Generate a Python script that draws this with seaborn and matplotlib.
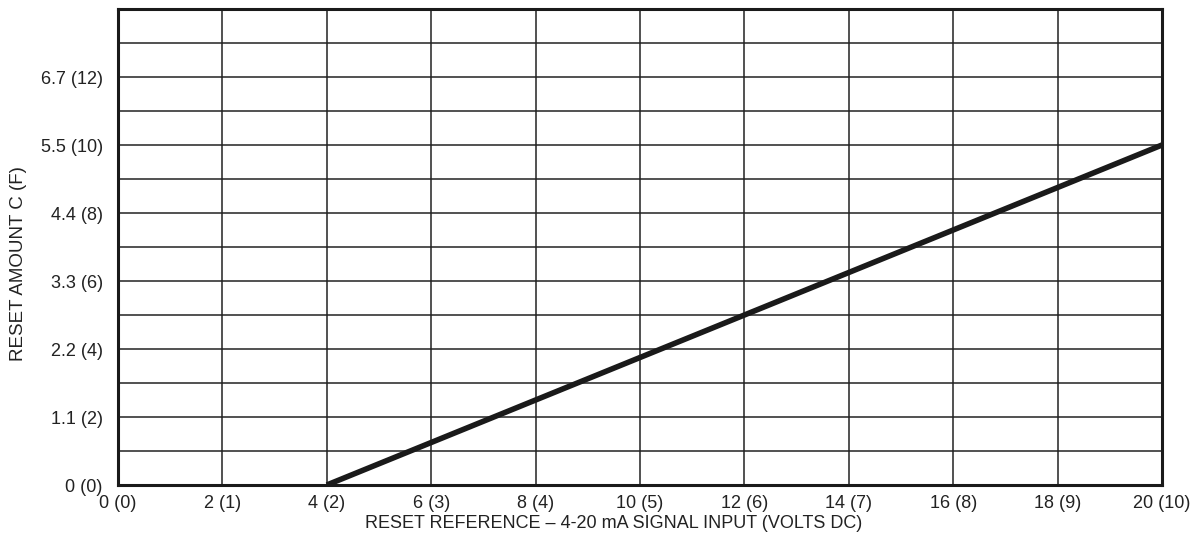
import matplotlib
matplotlib.use("Agg")
import matplotlib.pyplot as plt
import seaborn as sns
import pandas as pd

# Reset curve: signal input (volts DC) vs reset amount (F units)
signal_volts = [4, 20]
reset_f = [0, 10]

x_ticks = [0, 2, 4, 6, 8, 10, 12, 14, 16, 18, 20]
x_labels = ["0 (0)", "2 (1)", "4 (2)", "6 (3)", "8 (4)", "10 (5)",
            "12 (6)", "14 (7)", "16 (8)", "18 (9)", "20 (10)"]
y_ticks = [0, 2, 4, 6, 8, 10, 12]
y_labels = ["0 (0)", "1.1 (2)", "2.2 (4)", "3.3 (6)", "4.4 (8)", "5.5 (10)", "6.7 (12)"]

sns.set_style("white")
plt.rcParams["font.family"] = ["Liberation Sans", "DejaVu Sans"]

fig = plt.figure(figsize=(11.94, 5.43), dpi=100)
ax = fig.add_axes([118 / 1194, 1 - 485 / 543, (1162 - 118) / 1194, (485 - 9) / 543])

df = pd.DataFrame({"signal": signal_volts, "reset": reset_f})
sns.lineplot(data=df, x="signal", y="reset", ax=ax, color="#1a1a1a",
             linewidth=4, solid_capstyle="butt", zorder=5)

ax.set_xlim(0, 20)
ax.set_ylim(0, 14)

# grid: vertical every 2 V, horizontal every 1 F unit
for xv in range(0, 21, 2):
    ax.axvline(xv, color="#222222", linewidth=1.1, zorder=1)
for yv in range(0, 15):
    ax.axhline(yv, color="#222222", linewidth=1.1, zorder=1)

ax.set_xticks(x_ticks)
ax.set_xticklabels(x_labels)
ax.set_yticks(y_ticks)
ax.set_yticklabels(y_labels)
ax.tick_params(axis="both", length=0, labelsize=13, colors="#222222")
ax.tick_params(axis="x", pad=7)
ax.tick_params(axis="y", pad=11)

for side in ["left", "bottom", "right", "top"]:
    ax.spines[side].set_visible(True)
    ax.spines[side].set_color("#1a1a1a")
    ax.spines[side].set_linewidth(2.2)

ax.set_xlabel("RESET REFERENCE – 4-20 mA SIGNAL INPUT (VOLTS DC)", fontsize=13,
              color="#222222")
ax.set_ylabel("RESET AMOUNT C (F)", fontsize=13.5, color="#222222")
ax.xaxis.set_label_coords(0.475, -0.063)
ax.yaxis.set_label_coords(-0.0875, 0.466)

fig.savefig("out.png", dpi=100, facecolor="white")
